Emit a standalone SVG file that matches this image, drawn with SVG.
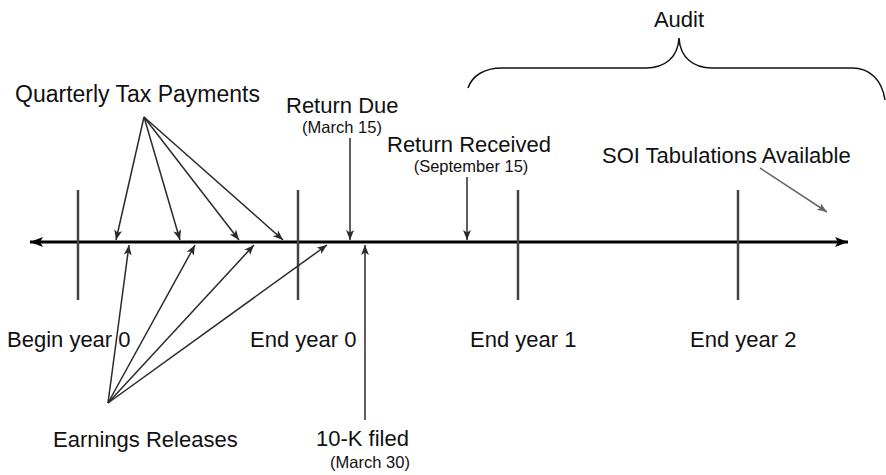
<svg xmlns="http://www.w3.org/2000/svg" width="886" height="475" viewBox="0 0 886 475">
<style>
text{font-family:"Liberation Sans",Arial,Helvetica,sans-serif;fill:#111}
.lbl{font-size:22px}
.big{font-size:23px}
.sm{font-size:16.5px}
.tick{stroke:#444;stroke-width:2.5}
.ptr{stroke:#2a2a2a;stroke-width:1.5;fill:none;marker-end:url(#ah)}
.gptr{stroke:#666;stroke-width:1.5;fill:none;marker-end:url(#gh)}
</style>
<defs>
<marker id="ah" markerUnits="userSpaceOnUse" markerWidth="12" markerHeight="10" refX="10" refY="4" orient="auto">
<path d="M0,0 L10,4 L0,8 L2.5,4 z" fill="#2a2a2a"/>
</marker>
<marker id="gh" markerUnits="userSpaceOnUse" markerWidth="12" markerHeight="10" refX="10" refY="4" orient="auto">
<path d="M0,0 L10,4 L0,8 L2.5,4 z" fill="#666"/>
</marker>
<marker id="axh" markerUnits="userSpaceOnUse" markerWidth="14" markerHeight="12" refX="13" refY="5" orient="auto-start-reverse">
<path d="M0,0 L13,5 L0,10 L3,5 z" fill="#000"/>
</marker>
</defs>
<g id="axis">
<line x1="30" y1="242" x2="848" y2="242" stroke="#000" stroke-width="3" marker-start="url(#axh)" marker-end="url(#axh)"/>
</g>
<g id="begin-year-0">
<line class="tick" x1="78" y1="190" x2="78" y2="300"/>
<text class="lbl" x="7" y="347">Begin year 0</text>
</g>
<g id="end-year-0">
<line class="tick" x1="298" y1="190" x2="298" y2="300"/>
<text class="lbl" x="250" y="347">End year 0</text>
</g>
<g id="end-year-1">
<line class="tick" x1="518" y1="190" x2="518" y2="300"/>
<text class="lbl" x="470" y="347">End year 1</text>
</g>
<g id="end-year-2">
<line class="tick" x1="738" y1="190" x2="738" y2="300"/>
<text class="lbl" x="690" y="347">End year 2</text>
</g>
<g id="quarterly-tax-payments">
<text class="big" x="15" y="102">Quarterly Tax Payments</text>
</g>
<g id="earnings-releases">
<text class="lbl" x="53" y="447">Earnings Releases</text>
</g>
<g id="return-due">
<text class="lbl" x="286" y="113">Return Due</text>
<text class="sm" x="342" y="133" text-anchor="middle">(March 15)</text>
</g>
<g id="return-received">
<text class="lbl" x="387" y="152">Return Received</text>
<text class="sm" x="471" y="172" text-anchor="middle">(September 15)</text>
</g>
<g id="tenk-filed">
<text class="lbl" x="316" y="446">10-K filed</text>
<text class="sm" x="370" y="468" text-anchor="middle">(March 30)</text>
</g>
<g id="soi">
<text class="lbl" x="602" y="163">SOI Tabulations Available</text>
</g>
<g id="audit">
<text class="lbl" x="679" y="27" text-anchor="middle">Audit</text>
<path d="M468,88 C472,76 484,68 502,68 L646,68 C664,68 678,58 679,38 C680,58 694,68 712,68 L852,68 C870,68 882,80 885,100" fill="none" stroke="#111" stroke-width="1.5"/>
</g>
<g id="connectors">
<line class="ptr" x1="144" y1="117" x2="116" y2="240"/>
<line class="ptr" x1="144" y1="117" x2="180" y2="240"/>
<line class="ptr" x1="144" y1="117" x2="239" y2="240"/>
<line class="ptr" x1="144" y1="117" x2="283" y2="240"/>
<line class="ptr" x1="108" y1="403" x2="129" y2="245"/>
<line class="ptr" x1="108" y1="403" x2="195" y2="245"/>
<line class="ptr" x1="108" y1="403" x2="254" y2="245"/>
<line class="ptr" x1="108" y1="403" x2="327" y2="245"/>
<line class="ptr" x1="350" y1="138" x2="350" y2="240"/>
<line class="ptr" x1="467" y1="177" x2="467" y2="240"/>
<line class="ptr" x1="365" y1="420" x2="365" y2="245"/>
<line class="gptr" x1="760" y1="168" x2="827" y2="212"/>
</g>
</svg>
